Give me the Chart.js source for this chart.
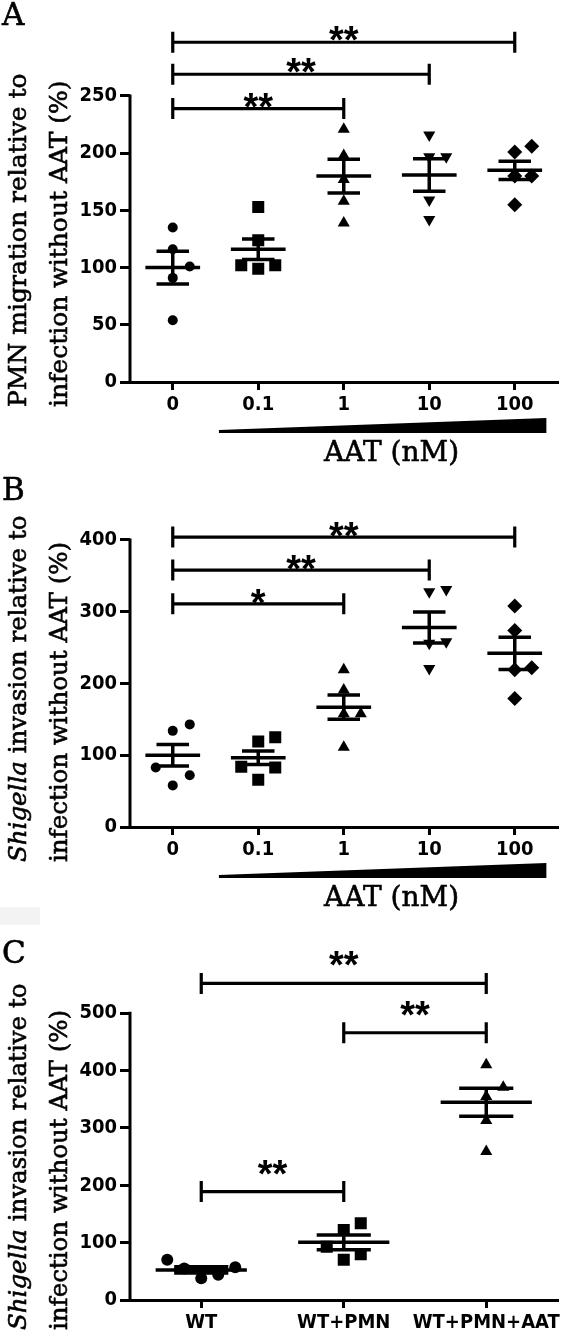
<!DOCTYPE html>
<html>
<head>
<meta charset="utf-8">
<script src="https://cdn.jsdelivr.net/npm/chart.js@4.4.1/dist/chart.umd.min.js"></script>
<style>
    body { margin: 0; background: #fff; width: 566px; height: 1339px; position: relative; overflow: hidden; }
    .panel { position: absolute; left: 0; width: 566px; }
    .panel canvas { display: block; }
    .smudge { position: absolute; left: 0; top: 907px; width: 40px; height: 18px; background: #f3f3f3; }
</style>
</head>
<body>

<div class="panel" style="top:0px;height:470px"><canvas id="chartA" width="566" height="470"></canvas></div>
<div class="panel" style="top:470px;height:450px"><canvas id="chartB" width="566" height="450"></canvas></div>
<div class="smudge"></div>
<div class="panel" style="top:920px;height:419px"><canvas id="chartC" width="566" height="419"></canvas></div>

<script>
// ==========================
// AAT figure - panels A, B, C
// ==========================

// ---------------- Panel A : PMN migration ----------------
const doseLabels = ["0", "0.1", "1", "10", "100"];
const migrationValues = [
    [135, 116, 101, 91, 54],
    [153, 124, 102, 99, 102],
    [221, 198, 177, 158, 139],
    [216, 197, 197, 159, 142],
    [206, 201, 180, 180, 155]
];
const migrationMeans = [100, 116, 180, 181, 185];
const migrationSems = [14.3, 9, 14.7, 14.2, 8];
const migrationTicks = [0, 50, 100, 150, 200, 250];
const migrationPairs = [[0, 4], [0, 3], [0, 2]];
const migrationPairLevels = [297, 269, 239];
const migrationStars = ["**", "**", "**"];

// ---------------- Panel B : Shigella invasion vs dose ----------------
const invasionValues = [
    [143, 134, 83, 72, 58],
    [125, 119, 84, 83, 66],
    [219, 191, 158, 158, 111],
    [331, 328, 258, 256, 221],
    [308, 274, 222, 219, 179]
];
const invasionMeans = [100, 96.5, 167, 278, 242];
const invasionSems = [15, 9.5, 17, 21.5, 22.5];
const invasionTicks = [0, 100, 200, 300, 400];
const invasionPairs = [[0, 4], [0, 3], [0, 2]];
const invasionPairLevels = [404, 358, 311];
const invasionStars = ["**", "**", "*"];

// ---------------- Panel C : Shigella invasion by group ----------------
const groupLabels = ["WT", "WT+PMN", "WT+PMN+AAT"];
const groupValues = [
    [70, 57, 55, 44, 38],
    [134, 122, 93, 80, 70],
    [410, 371, 355, 313, 259]
];
const groupMeans = [52.5, 100.5, 345];
const groupSems = [5.5, 13, 24.4];
const groupTicks = [0, 100, 200, 300, 400, 500];
const groupPairs = [[0, 2], [1, 2], [0, 1]];
const groupPairLevels = [552, 466, 189];
const groupStars = ["**", "**", "**"];

// ---------------- Shared look ----------------
const INK = "#000";
const SANS = '"Liberation Sans", Arial, sans-serif';
const TICKFONT = '"DejaVu Sans Condensed", "Liberation Sans", Arial, sans-serif';
const SERIF = '"DejaVu Serif", serif';

const markerShapes = [
    { style: "circle", rotation: 0, radius: 5 },
    { style: "rect", rotation: 0, radius: 8.5 },
    { style: "triangle", rotation: 0, radius: 7 },
    { style: "triangle", rotation: 180, radius: 7 },
    { style: "rectRot", rotation: 0, radius: 7.5 }
];

Chart.defaults.color = INK;

// Serif text drawn slightly heavier, like the scanned figure
function heavyText(ctx, text, x, y) {

    ctx.fillText(text, x, y);
    ctx.strokeText(text, x, y);

}

// Mean line + SEM whiskers
function meanSemPlugin(means, sems) {

    return {

        id: "meanSem",

        afterDatasetsDraw(chart) {

            const { ctx, scales: { x, y } } = chart;

            ctx.save();
            ctx.strokeStyle = INK;
            ctx.lineWidth = 3.5;

            means.forEach((m, i) => {

                const yMean = y.getPixelForValue(m);
                const yHi = y.getPixelForValue(m + sems[i]);
                const yLo = y.getPixelForValue(m - sems[i]);

                ctx.beginPath();
                ctx.moveTo(x.getPixelForValue(i - 0.32), yMean);
                ctx.lineTo(x.getPixelForValue(i + 0.32), yMean);
                ctx.moveTo(x.getPixelForValue(i - 0.19), yHi);
                ctx.lineTo(x.getPixelForValue(i + 0.19), yHi);
                ctx.moveTo(x.getPixelForValue(i - 0.19), yLo);
                ctx.lineTo(x.getPixelForValue(i + 0.19), yLo);
                ctx.moveTo(x.getPixelForValue(i), yHi);
                ctx.lineTo(x.getPixelForValue(i), yLo);
                ctx.stroke();

            });

            ctx.restore();

        }

    };

}

// Significance brackets
function bracketPlugin(pairs, levels, stars, lift) {

    return {

        id: "brackets",

        afterDraw(chart) {

            const { ctx, scales: { x, y } } = chart;

            ctx.save();
            ctx.strokeStyle = INK;
            ctx.fillStyle = INK;
            ctx.lineWidth = 3.2;
            ctx.font = "bold 38px " + SANS;
            ctx.textAlign = "center";
            ctx.textBaseline = "alphabetic";

            pairs.forEach(([a, b], k) => {

                const x1 = x.getPixelForValue(a);
                const x2 = x.getPixelForValue(b);
                const yy = y.getPixelForValue(levels[k]);

                ctx.beginPath();
                ctx.moveTo(x1, yy);
                ctx.lineTo(x2, yy);
                ctx.moveTo(x1, yy - 10.5);
                ctx.lineTo(x1, yy + 10.5);
                ctx.moveTo(x2, yy - 10.5);
                ctx.lineTo(x2, yy + 10.5);
                ctx.stroke();

                ctx.fillText(stars[k], (x1 + x2) / 2, yy - lift + 22);

            });

            ctx.restore();

        }

    };

}

// Y axis line only up to the last tick
function yAxisLinePlugin(topTick) {

    return {

        id: "yAxisLine",

        afterDraw(chart) {

            const { ctx, chartArea, scales: { y } } = chart;

            ctx.save();
            ctx.strokeStyle = INK;
            ctx.lineWidth = 3;
            ctx.beginPath();
            ctx.moveTo(chartArea.left, y.getPixelForValue(0) + 1.5);
            ctx.lineTo(chartArea.left, y.getPixelForValue(topTick) - 1.5);
            ctx.stroke();
            ctx.restore();

        }

    };

}

// Rotated y title (mixed italic runs) and panel letter
function titlePlugin(letter, letterY, lines) {

    return {

        id: "titles",

        afterDraw(chart) {

            const ctx = chart.ctx;

            ctx.save();
            ctx.fillStyle = INK;
            ctx.strokeStyle = INK;
            ctx.lineWidth = 0.6;
            ctx.textAlign = "left";
            ctx.textBaseline = "alphabetic";

            ctx.font = "31px " + SERIF;
            heavyText(ctx, letter, 2, letterY);

            lines.forEach(line => {

                ctx.save();
                ctx.translate(line.x, line.y);
                ctx.rotate(-Math.PI / 2);

                let pos = 0;

                line.runs.forEach(run => {

                    ctx.font = (run.italic ? "italic " : "") + line.size + "px " + SERIF;
                    heavyText(ctx, run.text, pos, 0);
                    pos += ctx.measureText(run.text).width;

                });

                ctx.restore();

            });

            ctx.restore();

        }

    };

}

// Dose wedge + "AAT (nM)"
function wedgePlugin() {

    return {

        id: "wedge",

        afterDraw(chart) {

            const { ctx, chartArea, scales: { x } } = chart;
            const base = chartArea.bottom;
            const xl = x.getPixelForValue(0.54);
            const xr = x.getPixelForValue(4.37);

            ctx.save();
            ctx.fillStyle = INK;
            ctx.strokeStyle = INK;
            ctx.lineWidth = 0.6;
            ctx.beginPath();
            ctx.moveTo(xl, base + 48);
            ctx.lineTo(xr, base + 36);
            ctx.lineTo(xr, base + 51);
            ctx.lineTo(xl, base + 51);
            ctx.closePath();
            ctx.fill();

            ctx.font = "28px " + SERIF;
            ctx.textAlign = "center";
            ctx.textBaseline = "alphabetic";
            heavyText(ctx, "AAT (nM)", x.getPixelForValue(2.56), base + 79);
            ctx.restore();

        }

    };

}

// Spread overlapping points sideways (dot-plot style)
function spreadPoints(chart, groups) {

    const { x, y } = chart.scales;
    const step = 17 / (x.getPixelForValue(1) - x.getPixelForValue(0));
    const slots = [0, 1, -1, 2, -2, 3, -3];

    groups.forEach((vals, i) => {

        const placed = [];
        const offsets = vals.map(() => 0);
        const order = vals.map((v, k) => k).sort((a, b) => vals[a] - vals[b]);

        order.forEach(k => {

            const py = y.getPixelForValue(vals[k]);
            const slot = slots.find(s => placed.every(p => p.s !== s || Math.abs(p.py - py) >= 18.5));

            placed.push({ s: slot, py: py });
            offsets[k] = slot * step;

        });

        chart.data.datasets[i].data = vals.map((v, k) => ({ x: i + offsets[k], y: v }));

    });

    chart.update("none");

}

function buildPanel(cfg) {

    const canvas = document.getElementById(cfg.id);

    const datasets = cfg.values.map((vals, i) => {

        const shape = markerShapes[i];

        return {

            data: vals.map(v => ({ x: i, y: v })),

            pointStyle: shape.style,

            pointRotation: shape.rotation,

            pointRadius: shape.style === "circle" ? cfg.circleRadius : shape.radius,

            pointHoverRadius: shape.style === "circle" ? cfg.circleRadius : shape.radius,

            pointBackgroundColor: INK,

            pointBorderColor: INK,

            pointBorderWidth: 0,

            showLine: false

        };

    });

    const chart = new Chart(canvas, {

        type: "scatter",

        data: { datasets: datasets },

        options: {

            responsive: false,

            animation: false,

            events: [],

            layout: {

                padding: { top: cfg.top, right: 6, bottom: 0, left: 0 }

            },

            plugins: {

                legend: { display: false },

                tooltip: { enabled: false }

            },

            scales: {

                x: {

                    type: "linear",

                    min: -0.5,

                    max: cfg.labels.length - 0.5,

                    afterBuildTicks: s => { s.ticks = cfg.labels.map((l, i) => ({ value: i })); },

                    afterFit: s => { s.height = cfg.xHeight; },

                    ticks: {

                        callback: v => cfg.labels[v],

                        font: { family: TICKFONT, size: 20, weight: "bold" },

                        color: INK,

                        padding: 3,

                        maxRotation: 0,

                        autoSkip: false

                    },

                    grid: { drawOnChartArea: false, drawTicks: true, tickLength: 8, lineWidth: 3, color: INK },

                    border: { display: true, width: 3, color: INK }

                },

                y: {

                    min: 0,

                    max: cfg.yMax,

                    afterBuildTicks: s => { s.ticks = cfg.ticks.map(v => ({ value: v })); },

                    afterFit: s => { s.width = 130; },

                    ticks: {

                        font: { family: TICKFONT, size: 20, weight: "bold" },

                        color: INK,

                        padding: 3

                    },

                    grid: { drawOnChartArea: false, drawTicks: true, tickLength: 10, lineWidth: 3, color: INK },

                    border: { display: false }

                }

            }

        },

        plugins: cfg.plugins

    });

    spreadPoints(chart, cfg.values);

    return chart;

}

// ---------------- Build panels ----------------
buildPanel({
    id: "chartA",
    labels: doseLabels,
    values: migrationValues,
    ticks: migrationTicks,
    yMax: 300,
    top: 38.8,
    xHeight: 88,
    circleRadius: 5,
    plugins: [
        meanSemPlugin(migrationMeans, migrationSems),
        yAxisLinePlugin(250),
        bracketPlugin(migrationPairs, migrationPairLevels, migrationStars, 11),
        wedgePlugin(),
        titlePlugin("A", 25, [
            { x: 26, y: 407, size: 25, runs: [{ text: "PMN migration relative to" }] },
            { x: 67, y: 407, size: 25, runs: [{ text: "infection without AAT (%)" }] }
        ])
    ]
});

buildPanel({
    id: "chartB",
    labels: doseLabels,
    values: invasionValues,
    ticks: invasionTicks,
    yMax: 450,
    top: 34.1,
    xHeight: 93,
    circleRadius: 5,
    plugins: [
        meanSemPlugin(invasionMeans, invasionSems),
        yAxisLinePlugin(400),
        bracketPlugin(invasionPairs, invasionPairLevels, invasionStars, 10),
        wedgePlugin(),
        titlePlugin("B", 30, [
            { x: 26, y: 392, size: 24.5, runs: [{ text: "Shigella", italic: true }, { text: " invasion relative to" }] },
            { x: 67, y: 392, size: 24.5, runs: [{ text: "infection without AAT (%)" }] }
        ])
    ]
});

buildPanel({
    id: "chartC",
    labels: groupLabels,
    values: groupValues,
    ticks: groupTicks,
    yMax: 600,
    top: 35.9,
    xHeight: 39,
    circleRadius: 6,
    plugins: [
        meanSemPlugin(groupMeans, groupSems),
        yAxisLinePlugin(500),
        bracketPlugin(groupPairs, groupPairLevels, groupStars, 27),
        titlePlugin("C", 43, [
            { x: 26, y: 410, size: 24.5, runs: [{ text: "Shigella", italic: true }, { text: " invasion relative to" }] },
            { x: 67, y: 410, size: 24.5, runs: [{ text: "infection without AAT (%)" }] }
        ])
    ]
});
</script>
</body>
</html>
